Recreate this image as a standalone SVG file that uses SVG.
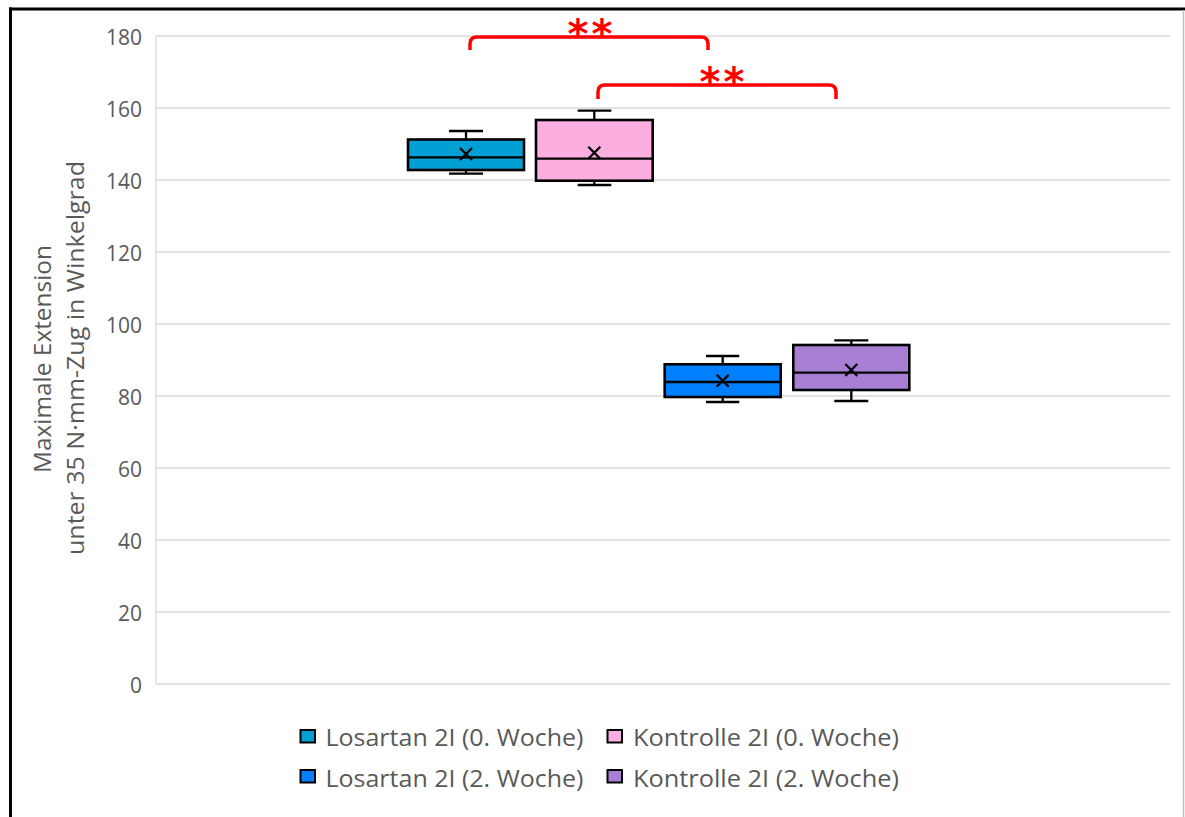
<svg xmlns="http://www.w3.org/2000/svg" width="1185" height="817" viewBox="0 0 1185 817">
<style>
.grid{stroke:#d9d9d9;stroke-width:1.3;fill:none}
.tick{font-family:"Open Sans","Liberation Sans",sans-serif;font-size:21px;fill:#595959;text-anchor:end}
.title{font-family:"Open Sans","Liberation Sans",sans-serif;font-size:24px;fill:#595959;text-anchor:middle}
.leg{font-family:"Open Sans","Liberation Sans",sans-serif;font-size:23.5px;fill:#595959}
.box{stroke:#000;stroke-width:2.6}
.wh{stroke:#000;stroke-width:2.3;fill:none}
.sw{stroke:#000;stroke-width:2}
.br{stroke:#ff0000;stroke-width:3.5;fill:none;stroke-linecap:butt}
.ast{font-family:"DejaVu Sans",sans-serif;font-weight:bold;font-size:40px;fill:#ff0000;text-anchor:middle;letter-spacing:3px}
</style>
<rect width="1185" height="817" fill="#fff"/>
<g id="frame">
<line x1="10.5" y1="7.5" x2="10.5" y2="817" stroke="#000" stroke-width="3"/>
<line x1="9" y1="9" x2="1185" y2="9" stroke="#000" stroke-width="3"/>
<line x1="1183.5" y1="10" x2="1183.5" y2="817" stroke="#c0c0c0" stroke-width="1.5"/>
</g>
<g id="grid">
<line class="grid" x1="156" y1="36" x2="1170" y2="36"/>
<line class="grid" x1="156" y1="108" x2="1170" y2="108"/>
<line class="grid" x1="156" y1="180" x2="1170" y2="180"/>
<line class="grid" x1="156" y1="252" x2="1170" y2="252"/>
<line class="grid" x1="156" y1="324" x2="1170" y2="324"/>
<line class="grid" x1="156" y1="396" x2="1170" y2="396"/>
<line class="grid" x1="156" y1="468" x2="1170" y2="468"/>
<line class="grid" x1="156" y1="540" x2="1170" y2="540"/>
<line class="grid" x1="156" y1="612" x2="1170" y2="612"/>
<line class="grid" x1="156" y1="684" x2="1170" y2="684"/>
<line class="grid" x1="156" y1="36" x2="156" y2="684"/>
</g>
<g id="yticks">
<text class="tick" x="142" y="45">180</text>
<text class="tick" x="142" y="117">160</text>
<text class="tick" x="142" y="189">140</text>
<text class="tick" x="142" y="261">120</text>
<text class="tick" x="142" y="333">100</text>
<text class="tick" x="142" y="405">80</text>
<text class="tick" x="142" y="477">60</text>
<text class="tick" x="142" y="549">40</text>
<text class="tick" x="142" y="621">20</text>
<text class="tick" x="142" y="693">0</text>
</g>
<g id="ytitle">
<text class="title" transform="translate(51,359) rotate(-90)" textLength="228" lengthAdjust="spacingAndGlyphs">Maximale Extension</text>
<text class="title" transform="translate(84,358) rotate(-90)" textLength="394" lengthAdjust="spacingAndGlyphs">unter 35 N·mm-Zug in Winkelgrad</text>
</g>
<g id="box-losartan-0">
<line class="wh" x1="466" y1="131" x2="466" y2="139.5"/>
<line class="wh" x1="466" y1="170" x2="466" y2="173.7"/>
<line class="wh" x1="449" y1="131" x2="483" y2="131"/>
<line class="wh" x1="449" y1="173.7" x2="483" y2="173.7"/>
<rect class="box" x="408" y="139.5" width="116" height="30.5" fill="#00a0d4"/>
<line class="wh" x1="408" y1="157.3" x2="524" y2="157.3"/>
<path class="wh" d="M460,148 L472,160 M472,148 L460,160"/>
</g>
<g id="box-kontrolle-0">
<line class="wh" x1="594.3" y1="110.7" x2="594.3" y2="120"/>
<line class="wh" x1="594.3" y1="180.7" x2="594.3" y2="185"/>
<line class="wh" x1="577.7" y1="110.7" x2="611.3" y2="110.7"/>
<line class="wh" x1="577.7" y1="185" x2="611.3" y2="185"/>
<rect class="box" x="536" y="120" width="116.7" height="60.7" fill="#fdaee1"/>
<line class="wh" x1="536" y1="158.7" x2="652.7" y2="158.7"/>
<path class="wh" d="M588.3,146.7 L600.3,158.7 M600.3,146.7 L588.3,158.7"/>
</g>
<g id="box-losartan-2">
<line class="wh" x1="722.7" y1="356" x2="722.7" y2="364.3"/>
<line class="wh" x1="722.7" y1="397" x2="722.7" y2="402"/>
<line class="wh" x1="706" y1="356" x2="739.3" y2="356"/>
<line class="wh" x1="706" y1="402" x2="739.3" y2="402"/>
<rect class="box" x="664.7" y="364.3" width="116" height="32.7" fill="#0080ff"/>
<line class="wh" x1="664.7" y1="382" x2="780.7" y2="382"/>
<path class="wh" d="M716.7,374.7 L728.7,386.7 M728.7,374.7 L716.7,386.7"/>
</g>
<g id="box-kontrolle-2">
<line class="wh" x1="851.3" y1="340.3" x2="851.3" y2="345"/>
<line class="wh" x1="851.3" y1="390" x2="851.3" y2="401"/>
<line class="wh" x1="834.3" y1="340.3" x2="868.3" y2="340.3"/>
<line class="wh" x1="834.3" y1="401" x2="868.3" y2="401"/>
<rect class="box" x="793.3" y="345" width="116" height="45" fill="#a97fd6"/>
<line class="wh" x1="793.3" y1="372.7" x2="909.3" y2="372.7"/>
<path class="wh" d="M845.3,364 L857.3,376 M857.3,364 L845.3,376"/>
</g>
<g id="connectors">
<path class="br" d="M470,50 V44 Q470,37 477,37 H701 Q708,37 708,44 V50"/>
<path class="br" d="M598,99 V92 Q598,85 605,85 H829 Q836,85 836,92 V99"/>
</g>
<g id="sig-1"><text class="ast" x="591.5" y="48">**</text></g>
<g id="sig-2"><text class="ast" x="723.5" y="96">**</text></g>
<g id="legend">
<rect class="sw" x="300.5" y="730" width="14.5" height="12.5" fill="#00a0d4"/>
<text class="leg" x="325.5" y="746" textLength="258" lengthAdjust="spacingAndGlyphs">Losartan 2I (0. Woche)</text>
<rect class="sw" x="607.5" y="730" width="14.5" height="12.5" fill="#fdaee1"/>
<text class="leg" x="633" y="746" textLength="266" lengthAdjust="spacingAndGlyphs">Kontrolle 2I (0. Woche)</text>
<rect class="sw" x="300.5" y="770" width="14.5" height="12.5" fill="#0080ff"/>
<text class="leg" x="325.5" y="787" textLength="258" lengthAdjust="spacingAndGlyphs">Losartan 2I (2. Woche)</text>
<rect class="sw" x="607.5" y="770" width="14.5" height="12.5" fill="#a97fd6"/>
<text class="leg" x="633" y="787" textLength="266" lengthAdjust="spacingAndGlyphs">Kontrolle 2I (2. Woche)</text>
</g>
</svg>
